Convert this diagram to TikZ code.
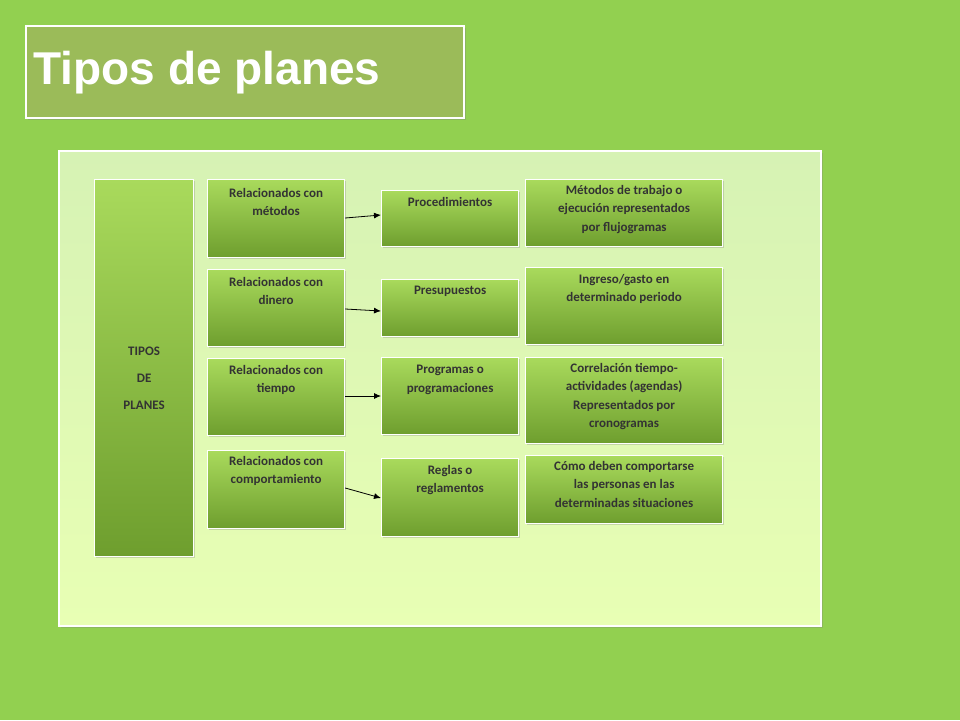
\documentclass[tikz,border=0pt]{standalone}
\usepackage{fontspec}
\setmainfont{Carlito}
\newfontfamily\titlefont{Liberation Sans}
\usetikzlibrary{arrows.meta,shadows}
\definecolor{bg}{HTML}{92D050}
\definecolor{olive}{HTML}{9BBB59}
\definecolor{btop}{HTML}{A9DA5C}
\definecolor{bbot}{HTML}{6E9E2E}
\definecolor{ptop}{HTML}{D6F2B4}
\definecolor{pbot}{HTML}{E8FFB4}
\tikzset{
 gbox/.style={draw=white,line width=1.2pt,top color=btop,bottom color=bbot,
   drop shadow={shadow xshift=1.5pt,shadow yshift=-1.5pt,opacity=0.3}},
 lbl/.style={anchor=north,align=center,font=\bfseries\fontsize{13}{18.5}\selectfont,text=black!80,inner sep=0pt},
 conn/.style={-{Latex[length=7pt,width=6pt]},thick,black}
}
\begin{document}
\begin{tikzpicture}[x=1pt,y=-1pt]
\useasboundingbox (0,0) rectangle (960,720);
\fill[bg] (0,0) rectangle (960,720);
\node[draw=white,line width=2pt,fill=olive,minimum width=438pt,minimum height=92pt,anchor=north west,
 drop shadow={shadow xshift=2pt,shadow yshift=-2pt,opacity=0.35}] (tbox) at (25,25) {};
\node[anchor=west,font=\titlefont\bfseries\fontsize{46}{52}\selectfont,text=white] (title) at (30,73) {Tipos de planes};
\node[draw=white,line width=1.5pt,top color=ptop,bottom color=pbot,
 minimum width=762pt,minimum height=475pt,anchor=north west,
 drop shadow={shadow xshift=2pt,shadow yshift=-2pt,opacity=0.3}] (panel) at (58,150) {};
\foreach \n/\a/\b/\c/\d in {t/94/179/193/556,
 a1/207/179/344/257,a2/207/269/344/346,a3/207/358/344/435,a4/207/450/344/528,
 b1/381/190/518/246,b2/381/279/518/336,b3/381/357/518/434,b4/381/458/518/536,
 c1/525/179/722/246,c2/525/267/722/344,c3/525/357/722/443,c4/525/455/722/523}{
 \node[gbox,anchor=north west,minimum width={\c-\a},minimum height={\d-\b},inner sep=0pt] (\n) at (\a,\b) {};
}
\node[lbl,anchor=center,font=\bfseries\fontsize{13}{27}\selectfont] (tl) at ([yshift=-10pt]t.center) {TIPOS\\DE\\PLANES};
\node[lbl] (la1) at ([yshift=-9pt]a1.north) {Relacionados con\\métodos};
\node[lbl] (la2) at ([yshift=-8pt]a2.north) {Relacionados con\\dinero};
\node[lbl] (la3) at ([yshift=-7pt]a3.north) {Relacionados con\\tiempo};
\node[lbl] (la4) at ([yshift=-6pt]a4.north) {Relacionados con\\comportamiento};
\node[lbl] (lb1) at ([yshift=-7pt]b1.north) {Procedimientos};
\node[lbl] (lb2) at ([yshift=-7pt]b2.north) {Presupuestos};
\node[lbl] (lb3) at ([yshift=-8pt]b3.north) {Programas o\\programaciones};
\node[lbl] (lb4) at ([yshift=-7pt]b4.north) {Reglas o\\reglamentos};
\node[lbl] (lc1) at ([yshift=-6pt]c1.north) {Métodos de trabajo o\\ejecución representados\\por flujogramas};
\node[lbl] (lc2) at ([yshift=-7pt]c2.north) {Ingreso/gasto en\\determinado periodo};
\node[lbl] (lc3) at ([yshift=-6pt]c3.north) {Correlación tiempo-\\actividades (agendas)\\Representados por\\cronogramas};
\node[lbl] (lc4) at ([yshift=-6pt]c4.north) {Cómo deben comportarse\\las personas en las\\determinadas situaciones};
\coordinate (s1) at ([yshift=-39pt]a1.north east);
\coordinate (e1) at ([yshift=-25pt]b1.north west);
\draw[conn] (s1) -- (e1);
\coordinate (s2) at ([yshift=-40pt]a2.north east);
\coordinate (e2) at ([yshift=-32pt]b2.north west);
\draw[conn] (s2) -- (e2);
\coordinate (s3) at ([yshift=-38pt]a3.north east);
\coordinate (e3) at ([yshift=-39pt]b3.north west);
\draw[conn] (s3) -- (e3);
\coordinate (s4) at ([yshift=-38pt]a4.north east);
\coordinate (e4) at ([yshift=-40pt]b4.north west);
\draw[conn] (s4) -- (e4);
\end{tikzpicture}
\end{document}
